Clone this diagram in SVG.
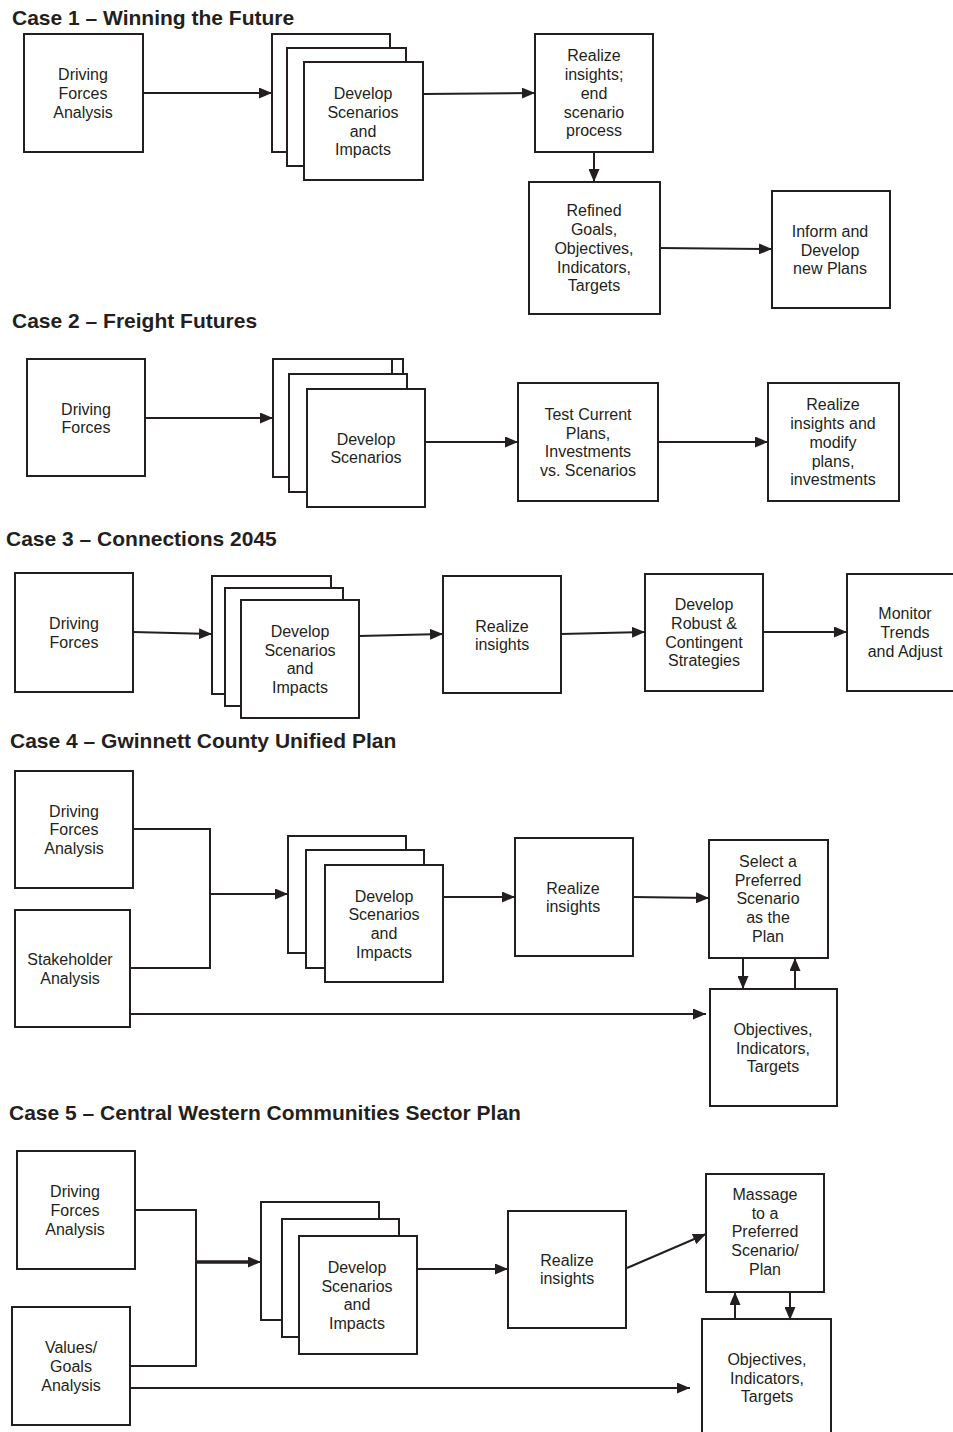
<svg xmlns="http://www.w3.org/2000/svg" width="953" height="1432" viewBox="0 0 953 1432">
<style>
.box{fill:#fff;stroke:#231f20;stroke-width:2}
.c{fill:none;stroke:#231f20;stroke-width:2}
.ck{fill:none;stroke:#231f20;stroke-width:3.5}
.t{font-family:"Liberation Sans",Arial,sans-serif;font-size:16px;fill:#231f20;text-anchor:middle}
.h{font-family:"Liberation Sans",Arial,sans-serif;font-size:21px;font-weight:bold;fill:#231f20}
</style>
<defs>
<marker id="ah" markerWidth="13" markerHeight="11" refX="13" refY="5.5" orient="auto" markerUnits="userSpaceOnUse"><path d="M0,0 L13,5.5 L0,11 z" fill="#231f20"/></marker>
</defs>
<rect width="953" height="1432" fill="#fff"/>

<!-- Titles -->
<text class="h" x="12" y="25">Case 1 – Winning the Future</text>
<text class="h" x="12" y="328">Case 2 – Freight Futures</text>
<text class="h" x="6" y="546">Case 3 – Connections 2045</text>
<text class="h" x="10" y="748">Case 4 – Gwinnett County Unified Plan</text>
<text class="h" x="9" y="1120">Case 5 – Central Western Communities Sector Plan</text>

<!-- Connectors -->
<g id="connectors">
<!-- Case 1 -->
<line class="c" x1="143" y1="93" x2="272" y2="93" marker-end="url(#ah)"/>
<line class="c" x1="423" y1="94" x2="535" y2="93" marker-end="url(#ah)"/>
<line class="c" x1="594" y1="152" x2="594" y2="182" marker-end="url(#ah)"/>
<line class="c" x1="660" y1="248" x2="772" y2="249" marker-end="url(#ah)"/>
<!-- Case 2 -->
<line class="c" x1="145" y1="418" x2="273" y2="418" marker-end="url(#ah)"/>
<line class="c" x1="425" y1="442" x2="518" y2="442" marker-end="url(#ah)"/>
<line class="c" x1="658" y1="442" x2="768" y2="442" marker-end="url(#ah)"/>
<!-- Case 3 -->
<line class="c" x1="133" y1="632" x2="212" y2="634" marker-end="url(#ah)"/>
<line class="c" x1="359" y1="636" x2="443" y2="634" marker-end="url(#ah)"/>
<line class="c" x1="561" y1="634" x2="645" y2="632" marker-end="url(#ah)"/>
<line class="c" x1="763" y1="632" x2="847" y2="632" marker-end="url(#ah)"/>
<!-- Case 4 -->
<polyline class="c" points="133,829 210,829 210,968 130,968"/>
<line class="c" x1="210" y1="894" x2="288" y2="894" marker-end="url(#ah)"/>
<line class="c" x1="443" y1="897" x2="515" y2="897" marker-end="url(#ah)"/>
<line class="c" x1="633" y1="897" x2="709" y2="898" marker-end="url(#ah)"/>
<line class="c" x1="743" y1="958" x2="743" y2="989" marker-end="url(#ah)"/>
<line class="c" x1="795" y1="989" x2="795" y2="958" marker-end="url(#ah)"/>
<line class="c" x1="130" y1="1014" x2="706" y2="1014" marker-end="url(#ah)"/>
<!-- Case 5 -->
<polyline class="c" points="135,1210 196,1210 196,1366 130,1366"/>
<line class="ck" x1="196" y1="1262" x2="250" y2="1262"/>
<line class="c" x1="248" y1="1262" x2="261" y2="1262" marker-end="url(#ah)"/>
<line class="c" x1="417" y1="1269" x2="508" y2="1269" marker-end="url(#ah)"/>
<line class="c" x1="627" y1="1268" x2="706" y2="1234" marker-end="url(#ah)"/>
<line class="c" x1="735" y1="1320" x2="735" y2="1292" marker-end="url(#ah)"/>
<line class="c" x1="790" y1="1292" x2="790" y2="1320" marker-end="url(#ah)"/>
<line class="c" x1="130" y1="1388" x2="690" y2="1388" marker-end="url(#ah)"/>
</g>

<!-- Case 1 nodes -->
<g id="c1-driving">
<rect class="box" x="24" y="34" width="119" height="118"/>
<text class="t"><tspan x="83" y="80">Driving</tspan><tspan x="83" y="99">Forces</tspan><tspan x="83" y="118">Analysis</tspan></text>
</g>
<g id="c1-develop">
<rect class="box" x="272" y="34" width="118" height="118"/>
<rect class="box" x="287" y="48" width="119" height="118"/>
<rect class="box" x="304" y="62" width="119" height="118"/>
<text class="t"><tspan x="363" y="99">Develop</tspan><tspan x="363" y="118">Scenarios</tspan><tspan x="363" y="137">and</tspan><tspan x="363" y="155">Impacts</tspan></text>
</g>
<g id="c1-realize">
<rect class="box" x="535" y="34" width="118" height="118"/>
<text class="t"><tspan x="594" y="61">Realize</tspan><tspan x="594" y="80">insights;</tspan><tspan x="594" y="99">end</tspan><tspan x="594" y="118">scenario</tspan><tspan x="594" y="136">process</tspan></text>
</g>
<g id="c1-refined">
<rect class="box" x="529" y="182" width="131" height="132"/>
<text class="t"><tspan x="594" y="216">Refined</tspan><tspan x="594" y="235">Goals,</tspan><tspan x="594" y="254">Objectives,</tspan><tspan x="594" y="273">Indicators,</tspan><tspan x="594" y="291">Targets</tspan></text>
</g>
<g id="c1-inform">
<rect class="box" x="772" y="191" width="118" height="117"/>
<text class="t"><tspan x="830" y="237">Inform and</tspan><tspan x="830" y="256">Develop</tspan><tspan x="830" y="274">new Plans</tspan></text>
</g>

<!-- Case 2 nodes -->
<g id="c2-driving">
<rect class="box" x="27" y="359" width="118" height="117"/>
<text class="t"><tspan x="86" y="415">Driving</tspan><tspan x="86" y="433">Forces</tspan></text>
</g>
<g id="c2-develop">
<rect class="box" x="285" y="359" width="118" height="118"/>
<rect class="box" x="273" y="359" width="119" height="118"/>
<rect class="box" x="289" y="374" width="118" height="118"/>
<rect class="box" x="307" y="389" width="118" height="118"/>
<text class="t"><tspan x="366" y="445">Develop</tspan><tspan x="366" y="463">Scenarios</tspan></text>
</g>
<g id="c2-test">
<rect class="box" x="518" y="383" width="140" height="118"/>
<text class="t"><tspan x="588" y="420">Test Current</tspan><tspan x="588" y="439">Plans,</tspan><tspan x="588" y="457">Investments</tspan><tspan x="588" y="476">vs. Scenarios</tspan></text>
</g>
<g id="c2-realize">
<rect class="box" x="768" y="383" width="131" height="118"/>
<text class="t"><tspan x="833" y="410">Realize</tspan><tspan x="833" y="429">insights and</tspan><tspan x="833" y="448">modify</tspan><tspan x="833" y="467">plans,</tspan><tspan x="833" y="485">investments</tspan></text>
</g>

<!-- Case 3 nodes -->
<g id="c3-driving">
<rect class="box" x="15" y="573" width="118" height="119"/>
<text class="t"><tspan x="74" y="629">Driving</tspan><tspan x="74" y="648">Forces</tspan></text>
</g>
<g id="c3-develop">
<rect class="box" x="212" y="576" width="119" height="118"/>
<rect class="box" x="225" y="588" width="118" height="118"/>
<rect class="box" x="241" y="600" width="118" height="118"/>
<text class="t"><tspan x="300" y="637">Develop</tspan><tspan x="300" y="656">Scenarios</tspan><tspan x="300" y="674">and</tspan><tspan x="300" y="693">Impacts</tspan></text>
</g>
<g id="c3-realize">
<rect class="box" x="443" y="576" width="118" height="117"/>
<text class="t"><tspan x="502" y="632">Realize</tspan><tspan x="502" y="650">insights</tspan></text>
</g>
<g id="c3-robust">
<rect class="box" x="645" y="574" width="118" height="117"/>
<text class="t"><tspan x="704" y="610">Develop</tspan><tspan x="704" y="629">Robust &amp;</tspan><tspan x="704" y="648">Contingent</tspan><tspan x="704" y="666">Strategies</tspan></text>
</g>
<g id="c3-monitor">
<rect class="box" x="847" y="574" width="118" height="117"/>
<text class="t"><tspan x="905" y="619">Monitor</tspan><tspan x="905" y="638">Trends</tspan><tspan x="905" y="657">and Adjust</tspan></text>
</g>

<!-- Case 4 nodes -->
<g id="c4-driving">
<rect class="box" x="15" y="771" width="118" height="117"/>
<text class="t"><tspan x="74" y="817">Driving</tspan><tspan x="74" y="835">Forces</tspan><tspan x="74" y="854">Analysis</tspan></text>
</g>
<g id="c4-stakeholder">
<rect class="box" x="15" y="910" width="115" height="117"/>
<text class="t"><tspan x="70" y="965">Stakeholder</tspan><tspan x="70" y="984">Analysis</tspan></text>
</g>
<g id="c4-develop">
<rect class="box" x="288" y="836" width="118" height="117"/>
<rect class="box" x="306" y="850" width="118" height="118"/>
<rect class="box" x="325" y="865" width="118" height="117"/>
<text class="t"><tspan x="384" y="902">Develop</tspan><tspan x="384" y="920">Scenarios</tspan><tspan x="384" y="939">and</tspan><tspan x="384" y="958">Impacts</tspan></text>
</g>
<g id="c4-realize">
<rect class="box" x="515" y="838" width="118" height="118"/>
<text class="t"><tspan x="573" y="894">Realize</tspan><tspan x="573" y="912">insights</tspan></text>
</g>
<g id="c4-select">
<rect class="box" x="709" y="840" width="119" height="118"/>
<text class="t"><tspan x="768" y="867">Select a</tspan><tspan x="768" y="886">Preferred</tspan><tspan x="768" y="904">Scenario</tspan><tspan x="768" y="923">as the</tspan><tspan x="768" y="942">Plan</tspan></text>
</g>
<g id="c4-objectives">
<rect class="box" x="710" y="989" width="127" height="117"/>
<text class="t"><tspan x="773" y="1035">Objectives,</tspan><tspan x="773" y="1054">Indicators,</tspan><tspan x="773" y="1072">Targets</tspan></text>
</g>

<!-- Case 5 nodes -->
<g id="c5-driving">
<rect class="box" x="17" y="1151" width="118" height="118"/>
<text class="t"><tspan x="75" y="1197">Driving</tspan><tspan x="75" y="1216">Forces</tspan><tspan x="75" y="1235">Analysis</tspan></text>
</g>
<g id="c5-values">
<rect class="box" x="12" y="1307" width="118" height="118"/>
<text class="t"><tspan x="71" y="1353">Values/</tspan><tspan x="71" y="1372">Goals</tspan><tspan x="71" y="1391">Analysis</tspan></text>
</g>
<g id="c5-develop">
<rect class="box" x="261" y="1202" width="118" height="118"/>
<rect class="box" x="282" y="1219" width="117" height="118"/>
<rect class="box" x="299" y="1236" width="118" height="118"/>
<text class="t"><tspan x="357" y="1273">Develop</tspan><tspan x="357" y="1292">Scenarios</tspan><tspan x="357" y="1310">and</tspan><tspan x="357" y="1329">Impacts</tspan></text>
</g>
<g id="c5-realize">
<rect class="box" x="508" y="1211" width="118" height="117"/>
<text class="t"><tspan x="567" y="1266">Realize</tspan><tspan x="567" y="1284">insights</tspan></text>
</g>
<g id="c5-massage">
<rect class="box" x="706" y="1174" width="118" height="118"/>
<text class="t"><tspan x="765" y="1200">Massage</tspan><tspan x="765" y="1219">to a</tspan><tspan x="765" y="1237">Preferred</tspan><tspan x="765" y="1256">Scenario/</tspan><tspan x="765" y="1275">Plan</tspan></text>
</g>
<g id="c5-objectives">
<rect class="box" x="702" y="1319" width="129" height="120"/>
<text class="t"><tspan x="767" y="1365">Objectives,</tspan><tspan x="767" y="1384">Indicators,</tspan><tspan x="767" y="1402">Targets</tspan></text>
</g>
</svg>
